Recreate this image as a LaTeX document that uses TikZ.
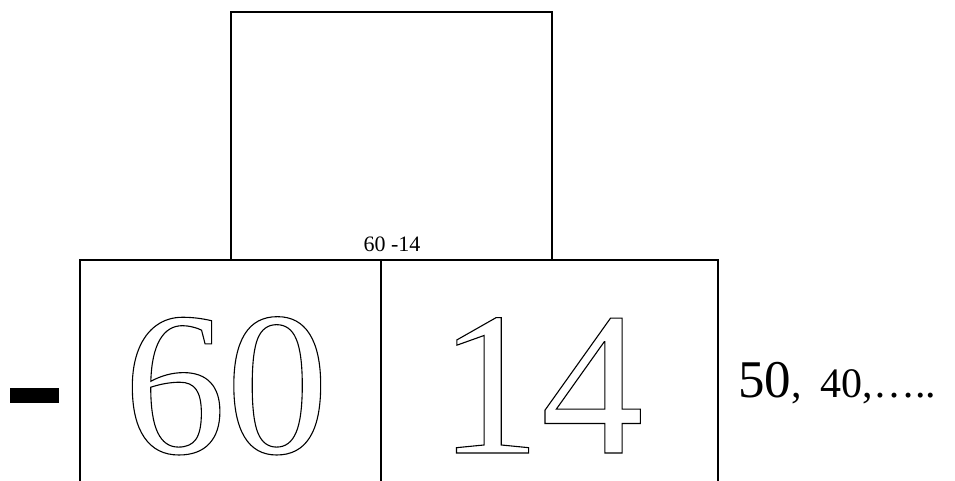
\documentclass[tikz,border=0pt]{standalone}
\usepackage{fontspec}
\setmainfont{Liberation Serif}
\usetikzlibrary{positioning}
\newcommand{\hollow}[1]{\special{pdf:literal direct 1 Tr 1.1 w}#1\special{pdf:literal direct 0 Tr}}

\begin{document}
\begin{tikzpicture}[
      x=1pt, y=1pt,
      frame/.style={line width=1.8pt, draw=black},
      bignum/.style={anchor=base, inner sep=0pt, font=\fontsize{205}{205}\selectfont},
      tag/.style={anchor=base, inner sep=0pt}
    ]
      \useasboundingbox (0,0) rectangle (955,481);
      % top box
      \draw[frame] (231,221) -- (231,469) -- (552,469) -- (552,221);
      % bottom boxes, open at the bottom
      \draw[frame] (80,0) -- (80,221) -- (718,221) -- (718,0);
      \draw[frame] (381,0) -- (381,221);
      % minus bar
      \fill (10,78) rectangle (59,93);
      \node[tag, font=\fontsize{22}{22}\selectfont] (diff) at (392,229) {60 -14};
      \node[bignum] (tens) at (226,28) {\hollow{60}};
      \node[bignum] (ones) at (541,28) {\hollow{14}};
      \node[tag, anchor=base west] (seq) at (738,83)
        {\fontsize{53}{53}\selectfont 50\fontsize{42}{42}\selectfont,\hspace{0.45em}40,….. };
    \end{tikzpicture}
\end{document}
